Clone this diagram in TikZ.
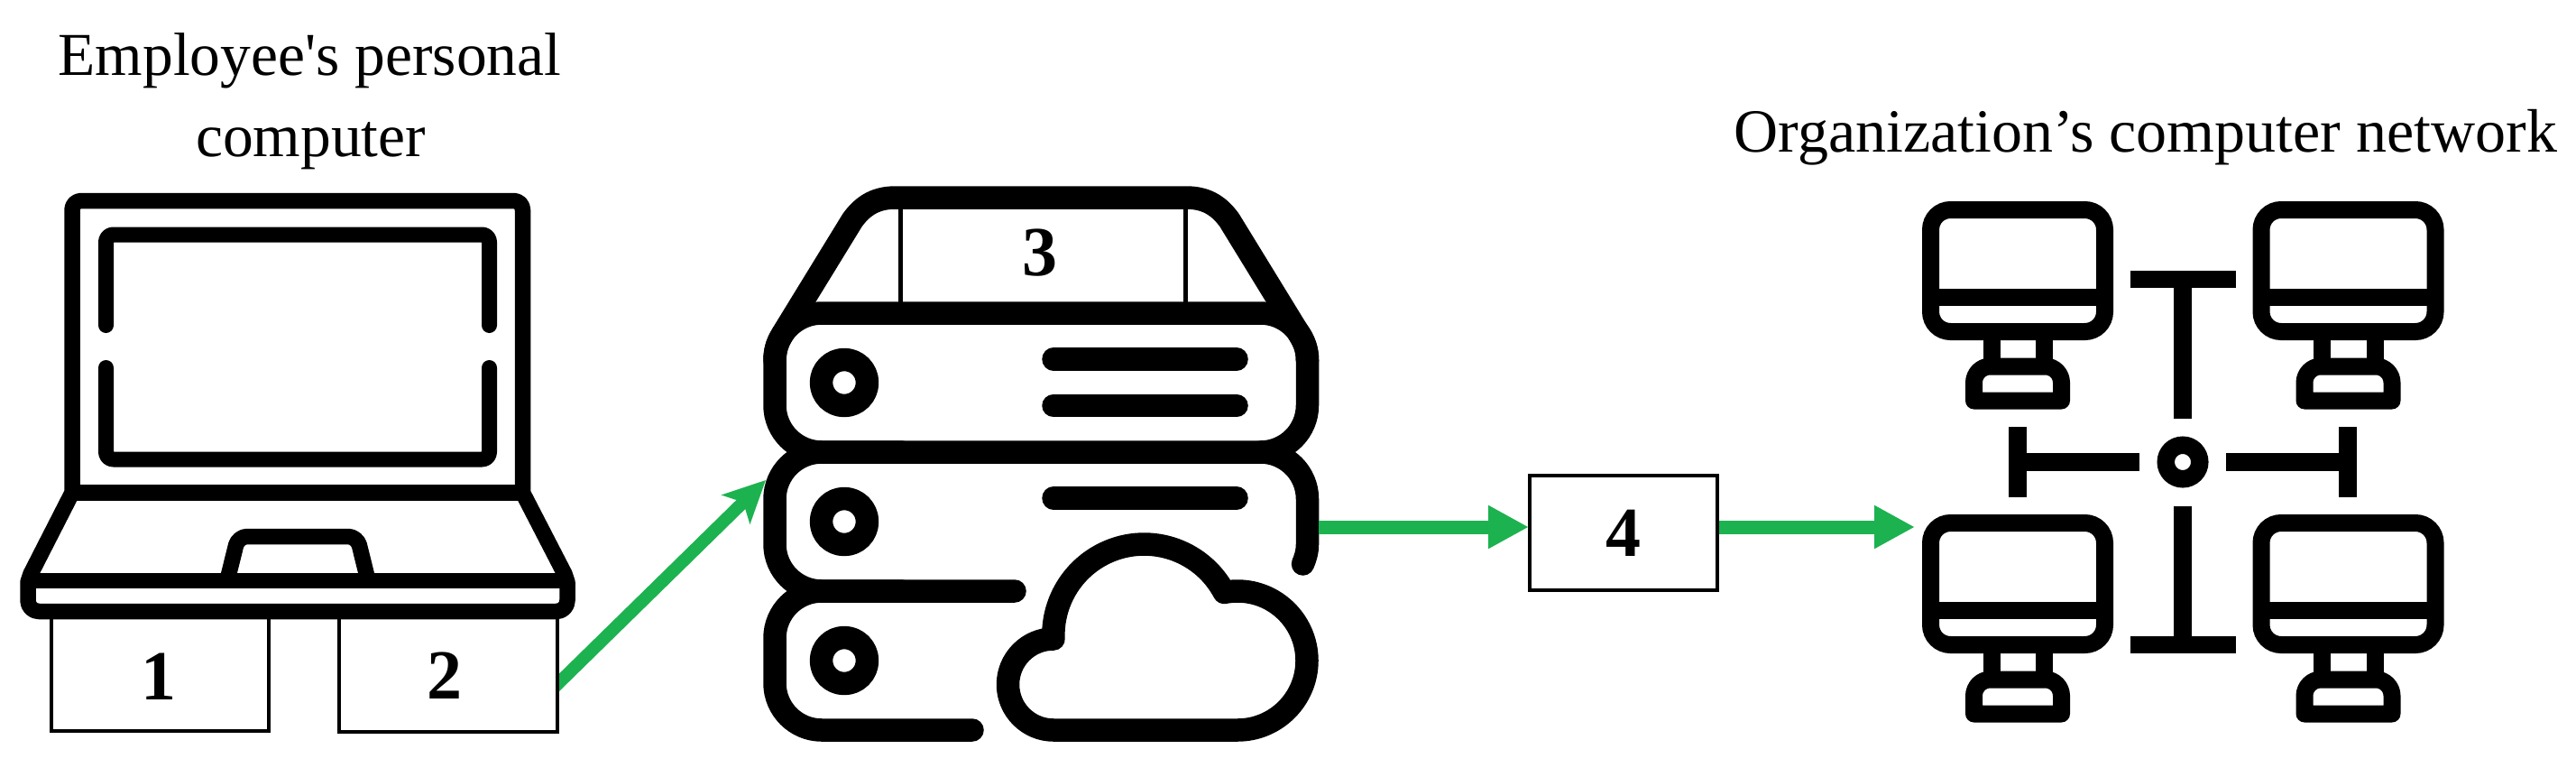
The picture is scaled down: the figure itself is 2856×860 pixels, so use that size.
\documentclass[tikz,border=0pt]{standalone}
\usepackage{fontspec}
\usetikzlibrary{arrows.meta}
\newfontfamily\lib{Liberation Serif}
\definecolor{flow}{RGB}{29,178,80}
\tikzset{
  titletext/.style={font=\lib\fontsize{67.5}{89.4}\selectfont,inner sep=0pt,align=center,text=black},
  digit/.style={font=\lib\bfseries\fontsize{78}{80}\selectfont,inner sep=0pt,text=black},
  numbox/.style={draw=black,line width=4.5pt,fill=white,inner sep=0pt},
  lap/.style={draw=black,line width=17.5pt,line join=round},
  srv/.style={draw=black,line width=25.5pt,line join=round,line cap=round},
  net/.style={draw=black,line width=19pt},
  flowline/.style={draw=flow,line width=15pt},
  headtri/.style={-{Triangle[length=45pt,width=45pt]}},
  headste/.style={-{Stealth[length=46pt,width=44pt,inset=11pt]}}
}
\begin{document}
\begin{tikzpicture}[x=1pt,y=1pt,yscale=-1]
\useasboundingbox[fill=white] (0,0) rectangle (2856,860);

% titles
\node[titletext,anchor=base] (t1a) at (343.5,83.5) {Employee's personal};
\node[titletext,anchor=base] (t1b) at (344.5,173) {computer};
\node[titletext,anchor=base,font=\lib\fontsize{68}{89.4}\selectfont] (t2) at (2379,168) {Organization’s computer network};

% connector that leaves box 2 (its start is hidden by the box)
\coordinate (outtwo) at (610,766);
\coordinate (srvin) at (849,532);
\draw[flowline,line width=14pt,headste] (outtwo) -- (srvin);

% number boxes under the laptop
\node[numbox,minimum width=241pt,minimum height=126pt] (b1) at (177.5,747) {};
\node[numbox,minimum width=242pt,minimum height=127pt] (b2) at (497,747.5) {};
\node[digit] (l1) at (176,749.5) {1};
\node[digit] (l2) at (493,748.5) {2};

% laptop
\draw[lap] (80,546) [rounded corners=10pt] -- (80,222.5) -- (579.5,222.5) [sharp corners] -- (579.5,546) -- (626,636) -- (629,645) [rounded corners=12pt] -- (629,677.5) -- (31,677.5) [sharp corners] -- (31,645) -- (34,636) -- cycle;
\draw[lap] (80,546) -- (579.5,546);
\draw[lap,line width=17pt,line cap=round,rounded corners=8pt] (117.5,360.5) -- (117.5,260) -- (542.5,260) -- (542.5,360.5);
\draw[lap,line width=17pt,line cap=round,rounded corners=8pt] (117.5,407.5) -- (117.5,509) -- (542.5,509) -- (542.5,407.5);
\draw[lap] (31,643.5) -- (629,643.5);
\draw[lap,rounded corners=10pt] (252,643) -- (264,594.5) -- (396,594.5) -- (408,643);

% server stack
\draw[srv,rounded corners=52pt] (859,347) rectangle (1449.5,501);
\draw[srv] (859,400) .. controls (859,385) and (863,378) .. (869.5,367) -- (945,244)
  .. controls (958,226) and (973,219) .. (993,219) -- (1315,219)
  .. controls (1335,219) and (1350,226) .. (1363,244) -- (1438.5,367)
  .. controls (1445,378) and (1449.5,385) .. (1449.5,400);
\draw[srv,rounded corners=52pt] (1125,655) -- (859,655) -- (859,501) -- (1000,501);
\draw[srv,rounded corners=52pt] (1078,809) -- (859,809) -- (859,655) -- (1000,655);
\draw[srv] (1397.5,501) arc[start angle=-90,end angle=0,radius=52] -- (1449.5,603) .. controls (1449.5,612) and (1447,619) .. (1444.5,625);
\foreach \cy in {424,578,732} \draw[srv] (936,\cy) circle[radius=25.5];
\draw[srv] (1168,398) -- (1371,398);
\draw[srv] (1168,449.5) -- (1371,449.5);
\draw[srv] (1168,552) -- (1371,552);
% cloud
\draw[srv] (1168,809) -- (1372,809)
  arc[start angle=90,end angle=-101,radius=77]
  arc[start angle=-28,end angle=-182,radius=100.6]
  -- (1168,708) arc[start angle=-90,end angle=-270,radius=50.5] -- cycle;
% label 3 frame
\draw[black,line width=5pt] (998.5,225) -- (998.5,340);
\draw[black,line width=5pt] (1314,225) -- (1314,340);
\node[digit] (l3) at (1153,280) {3};

% networked computers
\foreach \dx/\dy in {0/0,366.5/0,0/347,366.5/347}{
\begin{scope}[shift={(\dx,\dy)}]
  \draw[net,rounded corners=22pt] (2140.5,232.5) rectangle (2333.5,367.5);
  \draw[net] (2140.5,329) -- (2333.5,329);
  \draw[net] (2208,370) -- (2208,410);
  \draw[net] (2266.5,370) -- (2266.5,410);
  \draw[net,line join=round,rounded corners=18pt] (2188.5,444) -- (2188.5,406) -- (2285.5,406) [sharp corners] -- (2285.5,444) -- cycle;
\end{scope}}
\draw[net,line width=19.5pt] (2420,512) circle[radius=18.75];
\draw[net] (2362,309.5) -- (2478.5,309.5);
\draw[net,line width=20pt] (2420,309.5) -- (2420,463.5);
\draw[net] (2362,714) -- (2478.5,714);
\draw[net,line width=20pt] (2420,560.5) -- (2420,714);
\draw[net,line width=20pt] (2237,473) -- (2237,551);
\draw[net,line width=20pt] (2237,512) -- (2371.5,512);
\draw[net,line width=20pt] (2603,473) -- (2603,551);
\draw[net,line width=20pt] (2468,512) -- (2603,512);

% box 4
\node[numbox,minimum width=208pt,minimum height=127pt] (b4) at (1800,590.5) {};
\node[digit] (l4) at (1800,591) {4};

% connectors
\coordinate (srvout) at (1462,584);
\coordinate (boxin) at (1695,584);
\coordinate (boxout) at (1906,584);
\coordinate (netin) at (2123,584);
\draw[flowline,headtri] (srvout) -- (boxin);
\draw[flowline,headtri] (boxout) -- (netin);
\end{tikzpicture}
\end{document}
